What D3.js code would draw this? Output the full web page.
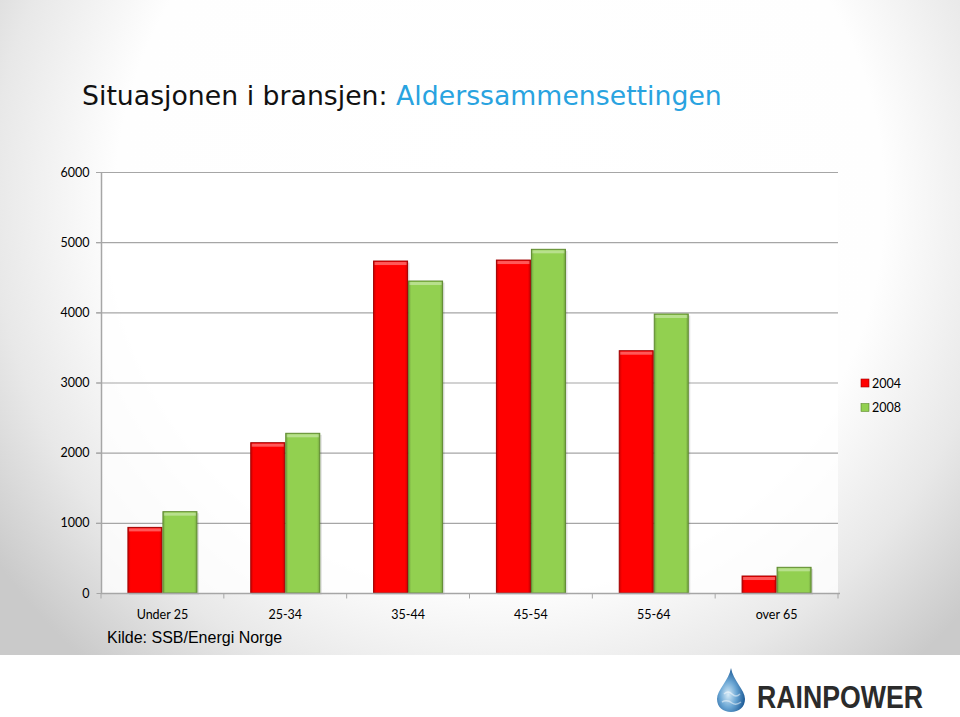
<!DOCTYPE html>
<html><head><meta charset="utf-8">
<script src="https://cdn.jsdelivr.net/npm/d3@7"></script>
<style>html,body{margin:0;padding:0;background:#fff;}svg{display:block;}</style>
</head><body>
<script>
const categories = ["Under 25","25-34","35-44","45-54","55-64","over 65"];
const seriesNames = ["2004","2008"];
const values2004 = [935, 2142, 4731, 4745, 3453, 242];
const values2008 = [1159, 2276, 4446, 4898, 3976, 366];
const yTicks = [0,1000,2000,3000,4000,5000,6000];
const colors = {"2004":"#ff0000","2008":"#92d050"};
const borders = {"2004":"#a00000","2008":"#5f8a30"};

const W=960,H=717;
const svg=d3.select("body").append("svg").attr("width",W).attr("height",H);
const defs=svg.append("defs");

// background radial gradient (user space)
const bg=defs.append("radialGradient").attr("id","bg").attr("gradientUnits","userSpaceOnUse")
 .attr("cx",500).attr("cy",200).attr("r",620);
bg.append("stop").attr("offset","0%").attr("stop-color","#ffffff");
bg.append("stop").attr("offset","62%").attr("stop-color","#fefefe");
bg.append("stop").attr("offset","82%").attr("stop-color","#e8e8e8");
bg.append("stop").attr("offset","100%").attr("stop-color","#cacaca");
svg.append("rect").attr("width",W).attr("height",655).attr("fill","url(#bg)");
svg.append("rect").attr("y",655).attr("width",W).attr("height",H-655).attr("fill","#ffffff");

// bar gradients
seriesNames.forEach(s=>{
  const g=defs.append("linearGradient").attr("id","g"+s).attr("x1","0").attr("x2","1").attr("y1","0").attr("y2","0");
  const c=d3.color(colors[s]);
  g.append("stop").attr("offset","0%").attr("stop-color",c.darker(0.6));
  g.append("stop").attr("offset","8%").attr("stop-color",colors[s]);
  g.append("stop").attr("offset","92%").attr("stop-color",colors[s]);
  g.append("stop").attr("offset","100%").attr("stop-color",c.darker(0.6));
});

const x0=d3.scaleBand().domain(categories).range([101,838]).paddingInner(0.43).paddingOuter(0.215);
const x1=d3.scaleBand().domain(seriesNames).range([0,x0.bandwidth()]);
const y=d3.scaleLinear().domain([0,6000]).range([593,172]);

// plot area
svg.append("rect").attr("x",101).attr("y",172).attr("width",737).attr("height",421).attr("fill","#ffffff").attr("opacity",0.8);

// gridlines
svg.append("g").selectAll("line").data(yTicks.filter(d=>d>0)).join("line")
 .attr("x1",96).attr("x2",838).attr("y1",d=>y(d)+0.5).attr("y2",d=>y(d)+0.5)
 .attr("stroke","#a6a6a6").attr("stroke-width",1.2);

// y axis
const yAxis=d3.axisLeft(y).tickValues(yTicks).tickSize(5).tickFormat(d3.format("d"));
const ya=svg.append("g").attr("transform","translate(101.5,0)").call(yAxis);
ya.select(".domain").attr("stroke","#a6a6a6").attr("stroke-width",1.5).attr("d","M0,172V593");
ya.selectAll(".tick line").attr("stroke","#a6a6a6");
ya.selectAll(".tick text").attr("x",-12).attr("font-family","Lato, 'Open Sans', sans-serif").attr("font-size",12.5).attr("fill","#000");

// bars
const groups=svg.append("g").selectAll("g").data(categories).join("g")
 .attr("transform",d=>`translate(${x0(d)},0)`);
const data=(c,i)=>[{s:"2004",v:values2004[i]},{s:"2008",v:values2008[i]}];
groups.each(function(c,i){
  const g=d3.select(this);
  const d=data(c,i);
  g.selectAll("rect.sh").data(d).join("rect").attr("class","sh")
   .attr("x",e=>x1(e.s)+1.5).attr("y",e=>y(e.v)+1.5).attr("width",x1.bandwidth()).attr("height",e=>593-y(e.v))
   .attr("fill","#000").attr("opacity",0.12);
  g.selectAll("rect.b").data(d).join("rect").attr("class","b")
   .attr("x",e=>x1(e.s)+0.5).attr("y",e=>y(e.v)).attr("width",x1.bandwidth()-1).attr("height",e=>593-y(e.v))
   .attr("fill",e=>`url(#g${e.s})`).attr("stroke",e=>borders[e.s]).attr("stroke-width",1);
  g.selectAll("rect.hl").data(d).join("rect").attr("class","hl")
   .attr("x",e=>x1(e.s)+1.5).attr("y",e=>y(e.v)+1).attr("width",x1.bandwidth()-3).attr("height",3)
   .attr("fill","#ffffff").attr("opacity",0.35);
});

// x axis
const xa=svg.append("g").attr("transform","translate(0,593.5)");
xa.append("line").attr("x1",101).attr("x2",840).attr("stroke","#a6a6a6").attr("stroke-width",1.5);
const bounds=d3.range(categories.length+1).map(i=>101+i*(737/categories.length));
xa.selectAll("line.t").data(bounds).join("line").attr("class","t").attr("x1",d=>d).attr("x2",d=>d).attr("y1",0).attr("y2",5).attr("stroke","#a6a6a6");
xa.selectAll("text").data(categories).join("text")
 .attr("x",d=>x0(d)+x0.bandwidth()/2).attr("y",25).attr("text-anchor","middle")
 .attr("font-family","Lato, 'Open Sans', sans-serif").attr("font-size",12.5).attr("fill","#000").text(d=>d);

// legend
const lg=svg.append("g").selectAll("g").data(seriesNames).join("g").attr("transform",(d,i)=>`translate(861,${379+i*24.5})`);
lg.append("rect").attr("width",8).attr("height",8).attr("fill",d=>`url(#g${d})`).attr("stroke",d=>borders[d]).attr("stroke-width",0.6);
lg.append("text").attr("x",11).attr("y",8.5).attr("font-family","Lato, 'Open Sans', sans-serif").attr("font-size",12.5).attr("fill","#000").text(d=>d);

// title
const title=svg.append("text").attr("x",82).attr("y",105).attr("font-family","'DejaVu Sans', Verdana, sans-serif").attr("font-size",26);
title.append("tspan").attr("fill","#111").text("Situasjonen i bransjen: ");
title.append("tspan").attr("fill","#29a3e0").text("Alderssammensettingen");
const tl=title.node().getComputedTextLength();
title.attr("font-size",26*640/tl);

// source
svg.append("text").attr("x",107).attr("y",643).attr("font-family","'Liberation Sans', Arial, sans-serif").attr("font-size",16).attr("fill","#000").text("Kilde: SSB/Energi Norge");

// logo
const dg=defs.append("radialGradient").attr("id","drop").attr("cx","40%").attr("cy","60%").attr("r","60%");
dg.append("stop").attr("offset","0%").attr("stop-color","#d8ecf8");
dg.append("stop").attr("offset","50%").attr("stop-color","#6aa6d4");
dg.append("stop").attr("offset","100%").attr("stop-color","#1c5a96");
svg.append("path").attr("d","M731,668 C733,680 745,690 745,699 C745,707 739,712 731,712 C723,712 717,707 717,699 C717,690 729,680 731,668 Z")
 .attr("fill","url(#drop)");
svg.append("path").attr("d","M724,694 q4,-4 8,0 q4,4 8,0 M722,702 q5,-3 10,1 q4,3 9,-1").attr("stroke","#ffffff").attr("stroke-opacity",0.5).attr("fill","none").attr("stroke-width",1.5);
const logo=svg.append("text").attr("x",757).attr("y",708).attr("font-family","'Liberation Sans', Arial, sans-serif").attr("font-weight","bold").attr("font-size",32).attr("fill","#2b2b2b").text("RAINPOWER");
logo.attr("textLength",166).attr("lengthAdjust","spacingAndGlyphs");
</script>
</body></html>
